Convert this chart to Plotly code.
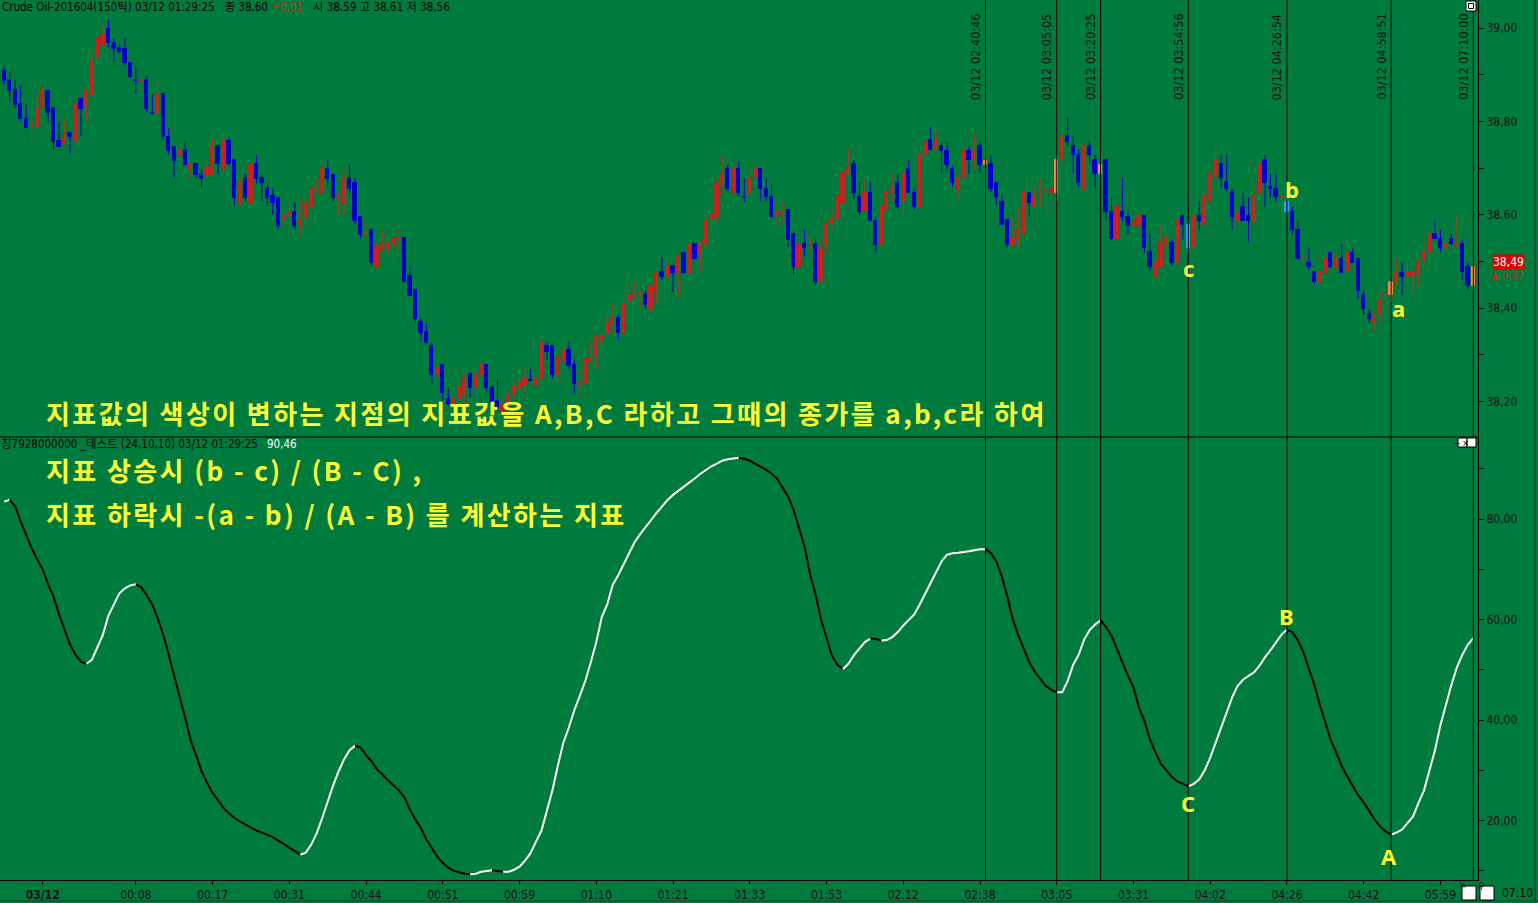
import plotly.graph_objects as go

# ---------------- data ----------------
opens = [
    38.908, 38.889, 38.867, 38.837, 38.806, 38.790, 38.786, 38.828, 38.865, 38.828,
    38.758, 38.753, 38.776, 38.756, 38.848, 38.835, 38.856, 38.935, 38.964, 38.998,
    38.967, 38.958, 38.956, 38.926, 38.888, 38.886, 38.889, 38.818, 38.816, 38.858,
    38.767, 38.746, 38.726, 38.739, 38.696, 38.708, 38.686, 38.685, 38.685, 38.748,
    38.696, 38.758, 38.717, 38.622, 38.678, 38.626, 38.708, 38.678, 38.658, 38.639,
    38.636, 38.589, 38.598, 38.606, 38.576, 38.596, 38.615, 38.653, 38.646, 38.698,
    38.686, 38.636, 38.626, 38.678, 38.667, 38.596, 38.556, 38.567, 38.487, 38.526,
    38.526, 38.535, 38.545, 38.549, 38.469, 38.439, 38.369, 38.349, 38.319, 38.256,
    38.278, 38.204, 38.190, 38.206, 38.217, 38.259, 38.228, 38.254, 38.278, 38.228,
    38.200, 38.180, 38.195, 38.214, 38.226, 38.235, 38.245, 38.235, 38.247, 38.319,
    38.319, 38.256, 38.286, 38.309, 38.278, 38.235, 38.237, 38.286, 38.296, 38.328,
    38.346, 38.366, 38.378, 38.346, 38.416, 38.427, 38.430, 38.428, 38.397, 38.437,
    38.478, 38.467, 38.489, 38.476, 38.517, 38.476, 38.537, 38.517, 38.534, 38.589,
    38.596, 38.666, 38.697, 38.647, 38.697, 38.638, 38.647, 38.678, 38.697, 38.656,
    38.637, 38.597, 38.603, 38.609, 38.559, 38.487, 38.537, 38.535, 38.537, 38.456,
    38.535, 38.580, 38.589, 38.626, 38.687, 38.709, 38.637, 38.606, 38.647, 38.587,
    38.535, 38.609, 38.646, 38.667, 38.628, 38.697, 38.647, 38.617, 38.728, 38.759,
    38.739, 38.747, 38.737, 38.697, 38.656, 38.678, 38.737, 38.717, 38.747, 38.706,
    38.709, 38.667, 38.628, 38.589, 38.535, 38.547, 38.559, 38.647, 38.617, 38.646,
    38.648, 38.647, 38.647, 38.717, 38.769, 38.747, 38.728, 38.656, 38.747, 38.717,
    38.687, 38.717, 38.606, 38.547, 38.606, 38.596, 38.575, 38.576, 38.597, 38.519,
    38.467, 38.487, 38.539, 38.539, 38.497, 38.597, 38.578, 38.528, 38.597, 38.578,
    38.628, 38.678, 38.709, 38.669, 38.649, 38.587, 38.617, 38.597, 38.587, 38.647,
    38.717, 38.660, 38.656, 38.636, 38.628, 38.606, 38.567, 38.505, 38.497, 38.478,
    38.456, 38.476, 38.517, 38.487, 38.506, 38.478, 38.517, 38.506, 38.428, 38.387,
    38.367, 38.387, 38.427, 38.428, 38.456, 38.476, 38.467, 38.469, 38.476, 38.506,
    38.517, 38.559, 38.547, 38.528, 38.547, 38.535, 38.537, 38.487, 38.447,
]
highs = [
    38.917, 38.906, 38.889, 38.878, 38.836, 38.806, 38.856, 38.878, 38.867, 38.828,
    38.798, 38.806, 38.778, 38.836, 38.849, 38.867, 38.949, 38.978, 39.008, 39.017,
    38.978, 38.967, 38.978, 38.926, 38.917, 38.906, 38.898, 38.858, 38.889, 38.858,
    38.786, 38.746, 38.758, 38.758, 38.715, 38.708, 38.696, 38.715, 38.767, 38.748,
    38.767, 38.767, 38.717, 38.686, 38.686, 38.708, 38.728, 38.686, 38.667, 38.658,
    38.636, 38.608, 38.639, 38.626, 38.636, 38.636, 38.658, 38.678, 38.708, 38.717,
    38.686, 38.650, 38.698, 38.708, 38.678, 38.596, 38.586, 38.567, 38.539, 38.567,
    38.542, 38.553, 38.567, 38.549, 38.489, 38.439, 38.378, 38.367, 38.326, 38.278,
    38.278, 38.226, 38.210, 38.239, 38.260, 38.259, 38.270, 38.289, 38.278, 38.235,
    38.247, 38.210, 38.220, 38.247, 38.253, 38.278, 38.269, 38.253, 38.339, 38.328,
    38.319, 38.299, 38.339, 38.328, 38.290, 38.269, 38.296, 38.328, 38.346, 38.349,
    38.389, 38.409, 38.387, 38.426, 38.456, 38.456, 38.437, 38.446, 38.449, 38.478,
    38.509, 38.517, 38.489, 38.517, 38.517, 38.537, 38.537, 38.549, 38.592, 38.609,
    38.670, 38.728, 38.706, 38.706, 38.715, 38.678, 38.710, 38.709, 38.697, 38.678,
    38.667, 38.628, 38.628, 38.609, 38.559, 38.537, 38.567, 38.556, 38.547, 38.547,
    38.585, 38.616, 38.637, 38.696, 38.739, 38.717, 38.670, 38.678, 38.669, 38.597,
    38.616, 38.651, 38.687, 38.687, 38.696, 38.717, 38.656, 38.728, 38.759, 38.789,
    38.778, 38.756, 38.756, 38.706, 38.689, 38.747, 38.747, 38.775, 38.756, 38.747,
    38.728, 38.667, 38.646, 38.589, 38.597, 38.617, 38.656, 38.647, 38.667, 38.678,
    38.659, 38.658, 38.728, 38.769, 38.809, 38.769, 38.739, 38.747, 38.756, 38.728,
    38.737, 38.717, 38.637, 38.624, 38.678, 38.606, 38.590, 38.606, 38.597, 38.559,
    38.510, 38.578, 38.559, 38.547, 38.589, 38.597, 38.589, 38.606, 38.628, 38.647,
    38.697, 38.747, 38.728, 38.728, 38.656, 38.647, 38.647, 38.637, 38.667, 38.719,
    38.728, 38.687, 38.687, 38.647, 38.637, 38.617, 38.587, 38.528, 38.528, 38.478,
    38.478, 38.537, 38.517, 38.517, 38.537, 38.517, 38.528, 38.506, 38.437, 38.397,
    38.397, 38.439, 38.430, 38.456, 38.506, 38.497, 38.497, 38.478, 38.506, 38.537,
    38.559, 38.589, 38.567, 38.547, 38.559, 38.597, 38.547, 38.497, 38.487,
]
lows = [
    38.879, 38.839, 38.828, 38.799, 38.785, 38.758, 38.785, 38.826, 38.799, 38.739,
    38.746, 38.749, 38.729, 38.755, 38.769, 38.799, 38.856, 38.928, 38.960, 38.958,
    38.928, 38.946, 38.919, 38.892, 38.859, 38.867, 38.819, 38.815, 38.815, 38.760,
    38.728, 38.679, 38.708, 38.706, 38.679, 38.678, 38.658, 38.679, 38.685, 38.686,
    38.694, 38.706, 38.619, 38.621, 38.626, 38.624, 38.667, 38.629, 38.619, 38.599,
    38.569, 38.569, 38.569, 38.569, 38.556, 38.570, 38.614, 38.646, 38.644, 38.656,
    38.628, 38.599, 38.599, 38.639, 38.579, 38.549, 38.551, 38.489, 38.485, 38.517,
    38.507, 38.500, 38.520, 38.455, 38.426, 38.369, 38.328, 38.324, 38.239, 38.249,
    38.202, 38.189, 38.180, 38.203, 38.192, 38.209, 38.225, 38.249, 38.221, 38.189,
    38.178, 38.170, 38.180, 38.203, 38.210, 38.217, 38.242, 38.232, 38.246, 38.289,
    38.249, 38.239, 38.281, 38.267, 38.217, 38.209, 38.235, 38.281, 38.269, 38.310,
    38.342, 38.346, 38.330, 38.340, 38.414, 38.419, 38.400, 38.399, 38.389, 38.410,
    38.460, 38.464, 38.434, 38.424, 38.474, 38.460, 38.504, 38.478, 38.528, 38.560,
    38.581, 38.640, 38.651, 38.646, 38.640, 38.628, 38.642, 38.674, 38.628, 38.628,
    38.596, 38.578, 38.578, 38.531, 38.471, 38.485, 38.510, 38.517, 38.449, 38.454,
    38.519, 38.564, 38.562, 38.621, 38.685, 38.630, 38.597, 38.606, 38.587, 38.519,
    38.533, 38.606, 38.628, 38.610, 38.597, 38.647, 38.610, 38.616, 38.724, 38.739,
    38.735, 38.689, 38.689, 38.659, 38.630, 38.669, 38.689, 38.697, 38.689, 38.648,
    38.649, 38.621, 38.578, 38.530, 38.535, 38.530, 38.556, 38.597, 38.617, 38.617,
    38.597, 38.645, 38.628, 38.710, 38.746, 38.689, 38.659, 38.649, 38.710, 38.659,
    38.659, 38.590, 38.546, 38.546, 38.585, 38.559, 38.519, 38.566, 38.519, 38.478,
    38.459, 38.487, 38.528, 38.489, 38.494, 38.547, 38.519, 38.519, 38.567, 38.578,
    38.626, 38.678, 38.659, 38.649, 38.567, 38.578, 38.587, 38.541, 38.578, 38.637,
    38.617, 38.637, 38.628, 38.597, 38.597, 38.559, 38.506, 38.487, 38.481, 38.447,
    38.447, 38.476, 38.487, 38.478, 38.476, 38.476, 38.497, 38.419, 38.387, 38.366,
    38.349, 38.366, 38.387, 38.411, 38.447, 38.429, 38.447, 38.428, 38.447, 38.489,
    38.499, 38.547, 38.519, 38.519, 38.530, 38.530, 38.459, 38.439, 38.439,
]
closes = [
    38.886, 38.865, 38.835, 38.805, 38.786, 38.795, 38.828, 38.865, 38.817, 38.756,
    38.746, 38.769, 38.767, 38.836, 38.826, 38.867, 38.928, 38.978, 38.986, 38.967,
    38.956, 38.948, 38.924, 38.896, 38.886, 38.888, 38.826, 38.816, 38.858, 38.767,
    38.736, 38.715, 38.739, 38.706, 38.706, 38.685, 38.676, 38.698, 38.748, 38.708,
    38.758, 38.708, 38.636, 38.667, 38.636, 38.706, 38.676, 38.667, 38.636, 38.626,
    38.576, 38.598, 38.606, 38.576, 38.586, 38.626, 38.656, 38.656, 38.698, 38.676,
    38.636, 38.640, 38.678, 38.656, 38.586, 38.556, 38.558, 38.496, 38.531, 38.537,
    38.539, 38.549, 38.548, 38.456, 38.426, 38.376, 38.347, 38.326, 38.256, 38.269,
    38.217, 38.194, 38.204, 38.231, 38.249, 38.228, 38.259, 38.278, 38.228, 38.197,
    38.185, 38.195, 38.210, 38.231, 38.239, 38.249, 38.243, 38.247, 38.328, 38.306,
    38.256, 38.297, 38.309, 38.276, 38.237, 38.240, 38.290, 38.290, 38.337, 38.339,
    38.367, 38.378, 38.347, 38.409, 38.428, 38.430, 38.432, 38.406, 38.447, 38.476,
    38.467, 38.489, 38.476, 38.509, 38.476, 38.537, 38.506, 38.535, 38.589, 38.599,
    38.667, 38.685, 38.656, 38.697, 38.647, 38.636, 38.678, 38.697, 38.656, 38.637,
    38.596, 38.606, 38.606, 38.546, 38.487, 38.537, 38.528, 38.537, 38.456, 38.529,
    38.578, 38.592, 38.637, 38.689, 38.697, 38.647, 38.606, 38.649, 38.587, 38.535,
    38.616, 38.647, 38.656, 38.617, 38.687, 38.647, 38.617, 38.728, 38.756, 38.739,
    38.759, 38.737, 38.706, 38.667, 38.678, 38.737, 38.717, 38.737, 38.706, 38.716,
    38.656, 38.637, 38.578, 38.535, 38.547, 38.567, 38.647, 38.626, 38.637, 38.649,
    38.650, 38.656, 38.717, 38.769, 38.756, 38.728, 38.667, 38.747, 38.728, 38.687,
    38.706, 38.606, 38.547, 38.617, 38.596, 38.576, 38.585, 38.597, 38.528, 38.487,
    38.499, 38.539, 38.549, 38.497, 38.589, 38.578, 38.528, 38.597, 38.587, 38.637,
    38.687, 38.717, 38.678, 38.656, 38.596, 38.606, 38.587, 38.587, 38.637, 38.709,
    38.667, 38.656, 38.637, 38.639, 38.606, 38.567, 38.506, 38.508, 38.487, 38.456,
    38.478, 38.506, 38.487, 38.506, 38.476, 38.517, 38.497, 38.437, 38.397, 38.376,
    38.378, 38.417, 38.430, 38.456, 38.476, 38.467, 38.476, 38.476, 38.497, 38.517,
    38.559, 38.547, 38.528, 38.537, 38.537, 38.537, 38.478, 38.447, 38.487,
]
indicator = [
    83.5, 83.8, 82.5, 79.5, 76.8, 74.2, 72.0, 70.0, 67.0, 64.5,
    61.0, 58.0, 55.0, 53.0, 51.6, 51.2, 52.0, 54.5, 57.0, 60.8,
    63.0, 65.2, 66.2, 66.8, 67.0, 66.4, 64.8, 63.0, 60.2, 57.0,
    53.0, 48.5, 44.6, 40.5, 36.0, 33.0, 29.8, 27.5, 25.5, 24.0,
    22.5, 21.4, 20.5, 19.8, 19.2, 18.5, 18.0, 17.6, 17.2, 16.7,
    16.0, 15.3, 14.7, 14.0, 13.2, 13.6, 15.2, 17.5, 20.5, 23.8,
    27.0, 29.8, 32.2, 34.0, 34.9, 34.5, 33.0, 31.8, 30.2, 29.0,
    28.0, 27.0, 26.0, 24.6, 22.2, 20.2, 18.5, 16.2, 14.5, 12.8,
    11.6, 10.6, 10.0, 9.7, 9.4, 9.3, 9.4, 9.8, 10.0, 10.1,
    9.9, 9.8, 9.8, 10.2, 10.8, 12.0, 13.5, 15.8, 18.0, 22.0,
    26.0, 31.0, 35.5, 38.5, 42.0, 44.8, 47.8, 51.5, 55.5, 60.5,
    63.0, 66.9, 68.8, 71.0, 73.3, 75.4, 77.0, 78.5, 79.8, 81.2,
    82.6, 83.8, 84.8, 85.6, 86.5, 87.2, 88.1, 89.0, 89.8, 90.5,
    91.0, 91.6, 91.9, 92.1, 92.2, 92.0, 91.6, 91.0, 90.4, 89.8,
    89.0, 88.0, 86.2, 84.5, 81.8, 78.3, 74.5, 69.0, 65.0, 60.0,
    56.5, 52.8, 51.0, 50.1, 51.2, 52.9, 54.2, 55.5, 56.2, 56.1,
    55.8, 55.9, 56.5, 57.5, 58.8, 59.8, 61.0, 63.0, 65.2, 67.3,
    69.5, 71.6, 72.9, 73.2, 73.3, 73.4, 73.6, 73.8, 74.0, 74.0,
    73.2, 71.5, 68.5, 64.5, 60.0, 56.8, 54.0, 51.5, 49.6, 48.2,
    46.8, 46.0, 45.5, 45.5, 47.8, 51.0, 53.0, 56.0, 57.9, 59.0,
    59.8, 58.5, 56.8, 54.0, 51.5, 48.8, 46.5, 42.5, 39.8, 36.2,
    33.6, 31.3, 30.0, 28.7, 27.8, 27.3, 26.8, 27.3, 28.2, 30.0,
    32.5, 35.5, 38.8, 41.8, 44.5, 46.8, 48.0, 48.8, 49.5, 50.8,
    52.5, 53.9, 55.5, 57.0, 58.0, 57.5, 55.8, 53.5, 50.2, 47.0,
    43.0, 39.5, 36.0, 33.5, 30.8, 28.8, 26.8, 25.0, 23.6, 21.8,
    20.2, 18.8, 17.8, 17.2, 17.6, 18.2, 19.5, 20.8, 23.5, 26.0,
    30.0, 34.0, 39.0, 43.2, 47.0, 50.5, 53.0, 55.0, 56.3,
]
x_tick_idx = [7, 24, 38, 52, 66, 80, 94, 108, 122, 136, 150, 164, 178, 192, 206, 220, 234, 248, 262]
x_tick_text = ["<b>03/12</b>", "00:08", "00:17", "00:31", "00:44", "00:51", "00:59", "01:10", "01:21",
               "01:33", "01:53", "02:12", "02:38", "03:05", "03:31", "04:02", "04:26", "04:42", "05:59"]
vline_idx = [179, 192, 200, 216, 234, 253, 268]
vline_text = ["03/12 02:40:46", "03/12 03:05:05", "03/12 03:20:25", "03/12 03:54:56",
              "03/12 04:26:54", "03/12 04:58:51", "03/12 07:10:00"]
price_ticks = [38.2, 38.4, 38.6, 38.8, 39.0]
price_minor = [38.3, 38.5, 38.7, 38.9]
ind_ticks = [20, 40, 60, 80]
ind_minor = [10, 30, 50, 70, 90]
wave_small = [("c", 216, 38.486), ("b", 235, 38.655), ("a", 254.4, 38.40)]
wave_big = [("C", 216, 23.5), ("B", 234, 60.7), ("A", 252.6, 12.9)]
notes = ["지표값의 색상이 변하는 지점의 지표값을 A,B,C 라하고 그때의 종가를 a,b,c라 하여",
         "지표 상승시 (b - c) / (B - C) ,",
         "지표 하락시 -(a - b) / (A - B) 를 계산하는 지표"]

# ---------------- style ----------------
GREEN = "#007b3e"
UP_BODY, UP_WICK = "#c81e1e", "#a83a22"
DN_BODY, DN_WICK = "#0000c8", "#0000c8"
HU_BODY, HU_WICK = "#ff8040", "#e8c88a"
HD_BODY, HD_WICK = "#3c9cff", "#3c9cff"
YELLOW = "#ffff33"
NARROW = "Liberation Sans Narrow, DejaVu Sans Condensed, Arial Narrow, Noto Sans CJK KR, sans-serif"

W, H = 1538, 903
ML, MR, MT, MB = 0, 60, 0, 23
PW, PH = W - ML - MR, H - MT - MB
split = 1 - 437 / PH

n = len(closes)
idx = list(range(n))
hl = set(vline_idx)
x_range = [-0.78, 268.85]


def px_x(p):
    return p / PW


def px_y(p):
    return 1 - p / PH


fig = go.Figure()

groups = [
    ([i for i in idx if i not in hl and closes[i] >= opens[i]], UP_BODY, UP_WICK),
    ([i for i in idx if i not in hl and closes[i] < opens[i]], DN_BODY, DN_WICK),
    ([i for i in idx if i in hl and closes[i] >= opens[i]], HU_BODY, HU_WICK),
    ([i for i in idx if i in hl and closes[i] < opens[i]], HD_BODY, HD_WICK),
]
for sel, body, wick in groups:
    xs, ys = [], []
    for i in sel:
        xs += [i, i, None]
        ys += [lows[i], highs[i], None]
    fig.add_trace(go.Scatter(x=xs, y=ys, mode="lines", line=dict(color=wick, width=1),
                             xaxis="x", yaxis="y", hoverinfo="skip"))
for sel, body, wick in groups:
    fig.add_trace(go.Bar(x=sel, y=[closes[i] - opens[i] for i in sel], base=[opens[i] for i in sel],
                         width=0.6, marker=dict(color=body, line=dict(color=body, width=1)),
                         xaxis="x", yaxis="y", hoverinfo="skip"))

# indicator, white when rising, black when falling
segs = []
start = 0
cur = indicator[1] >= indicator[0]
for i in range(2, n):
    d = indicator[i] >= indicator[i - 1]
    if d != cur:
        segs.append((start, i - 1, cur))
        start = i - 1
        cur = d
segs.append((start, n - 1, cur))
for s, e, up in segs:
    fig.add_trace(go.Scatter(x=list(range(s, e + 1)), y=indicator[s:e + 1], mode="lines",
                             line=dict(color="white" if up else "black", width=2),
                             xaxis="x2", yaxis="y2", hoverinfo="skip"))

shapes = []
for i in vline_idx:
    shapes.append(dict(type="line", xref="x", yref="paper", x0=i, x1=i, y0=0, y1=1,
                       line=dict(color="black", width=1)))
shapes.append(dict(type="line", xref="paper", yref="paper", x0=0, x1=1, y0=split, y1=split,
                   line=dict(color="black", width=1)))
shapes.append(dict(type="line", xref="paper", yref="paper", x0=px_x(1535), x1=px_x(1535),
                   y0=px_y(903), y1=1, line=dict(color="#333333", width=1)))
shapes.append(dict(type="line", xref="paper", yref="paper", x0=0, x1=px_x(1538),
                   y0=px_y(901), y1=px_y(901), line=dict(color="#333333", width=1)))
# small window icons
for (x0, y0, x1, y1) in [(1466, 1, 1476, 11), (1458, 438, 1467, 447), (1467, 438, 1476, 447),
                         (1462, 886, 1476, 900), (1480, 886, 1494, 900)]:
    shapes.append(dict(type="rect", xref="paper", yref="paper", x0=px_x(x0), x1=px_x(x1),
                       y0=px_y(y1), y1=px_y(y0), fillcolor="white", line=dict(color="black", width=1)))
shapes.append(dict(type="rect", xref="paper", yref="paper", x0=px_x(1468.5), x1=px_x(1473.5),
                   y0=px_y(8.5), y1=px_y(3.5), fillcolor="white", line=dict(color="black", width=1)))

annotations = []
for i, t in zip(vline_idx, vline_text):
    annotations.append(dict(x=i, xref="x", y=px_y(12), yref="paper", text=t, textangle=-90,
                            showarrow=False, xanchor="right", yanchor="top", xshift=-1,
                            font=dict(family=NARROW, size=12.5, color="#111111")))
for t, xi, yv in wave_small:
    annotations.append(dict(x=xi, y=yv, xref="x", yref="y", text="<b>%s</b>" % t, showarrow=False,
                            font=dict(family="Noto Sans, DejaVu Sans", size=22, color=YELLOW)))
for t, xi, yv in wave_big:
    annotations.append(dict(x=xi, y=yv, xref="x2", yref="y2", text="<b>%s</b>" % t, showarrow=False,
                            font=dict(family="Noto Sans, DejaVu Sans", size=22, color=YELLOW)))
for t, yp in zip(notes, [413, 469, 513]):
    annotations.append(dict(x=px_x(45), y=px_y(yp), xref="paper", yref="paper",
                            text="<span style='letter-spacing:2.4px'><b>%s</b></span>" % t,
                            showarrow=False, xanchor="left", yanchor="middle", borderpad=0,
                            font=dict(family="Noto Sans CJK KR", size=26, color=YELLOW)))
annotations.append(dict(x=0, y=1, xref="paper", yref="paper", xanchor="left", yanchor="top", showarrow=False,
                        text="Crude Oil-201604(150틱) 03/12 01:29:25 &nbsp; 종 38,60 "
                             "<span style='color:#c0341e'>+0,01</span> &nbsp; 시 38,59 고 38,61 저 38,56",
                        font=dict(family=NARROW, size=11.5, color="black"), yshift=2))
annotations.append(dict(x=0, y=split, xref="paper", yref="paper", xanchor="left", yanchor="top", showarrow=False,
                        text="칭7928000000 _테스트 (24,10,10) 03/12 01:29:25", borderpad=0,
                        font=dict(family=NARROW, size=11.5, color="black"), yshift=1))
annotations.append(dict(x=px_x(266), y=split, xref="paper", yref="paper", xanchor="left", yanchor="top",
                        showarrow=False, text="90,46", borderpad=0,
                        font=dict(family=NARROW, size=11.5, color="white"), yshift=1))
annotations.append(dict(x=px_x(1492), y=closes[-1], xref="paper", yref="y", xanchor="left",
                        yanchor="middle", showarrow=False, text="38,49", bgcolor="#e00000",
                        borderpad=0, yshift=5, font=dict(family=NARROW, size=12, color="white")))
annotations.append(dict(x=px_x(1489), y=closes[-1], xref="paper", yref="y", xanchor="left",
                        yanchor="middle", showarrow=False, text="▲ 0,47", yshift=-8,
                        font=dict(family=NARROW, size=11, color="#b03020")))
annotations.append(dict(x=px_x(1517), y=px_y(884), xref="paper", yref="paper", showarrow=False,
                        xanchor="center", yanchor="top",
                        text="07:10", font=dict(family=NARROW, size=12, color="black")))
for xp, yp, t in [(1462.5, 442.5, "−"), (1471.5, 442.5, "×"), (1469, 893, "✎"), (1487, 893, "⚲")]:
    annotations.append(dict(x=px_x(xp), y=px_y(yp), xref="paper", yref="paper", showarrow=False,
                            text=t, font=dict(family="DejaVu Sans", size=9, color="black")))

yfont = dict(family=NARROW, size=12, color="#111111")
fig.update_layout(
    width=W, height=H,
    margin=dict(l=ML, r=MR, t=MT, b=MB),
    paper_bgcolor=GREEN, plot_bgcolor=GREEN,
    showlegend=False, bargap=0,
    xaxis=dict(domain=[0, 1], range=x_range, anchor="y", showticklabels=False, ticks="",
               showgrid=False, zeroline=False, showline=False),
    xaxis2=dict(domain=[0, 1], range=x_range, anchor="y2", matches="x", tickmode="array",
                tickvals=x_tick_idx, ticktext=x_tick_text, ticks="outside", ticklen=4,
                tickcolor="black", showgrid=False, zeroline=False, showline=True,
                linecolor="black", linewidth=1, tickfont=yfont),
    yaxis=dict(domain=[split, 1], range=[38.1236, 39.060], side="right", anchor="x",
               tickmode="array", tickvals=price_ticks, ticktext=["%.2f" % v for v in price_ticks],
               ticks="outside", ticklen=5, tickcolor="black", showgrid=False, zeroline=False,
               showline=True, linecolor="black", linewidth=1, tickfont=yfont,
               minor=dict(tickmode="array", tickvals=price_minor, ticks="outside", ticklen=5,
                          tickcolor="black", showgrid=False)),
    yaxis2=dict(domain=[0, split], range=[8.16, 96.32], side="right", anchor="x2",
                tickmode="array", tickvals=ind_ticks, ticktext=["%.2f" % v for v in ind_ticks],
                ticks="outside", ticklen=5, tickcolor="black", showgrid=False, zeroline=False,
                showline=True, linecolor="black", linewidth=1, tickfont=yfont,
                minor=dict(tickmode="array", tickvals=ind_minor, ticks="outside", ticklen=5,
                           tickcolor="black", showgrid=False)),
    shapes=shapes,
    annotations=annotations,
)
# decimal comma labels
fig.layout.yaxis.ticktext = [s.replace(".", ",") for s in fig.layout.yaxis.ticktext]
fig.layout.yaxis2.ticktext = [s.replace(".", ",") for s in fig.layout.yaxis2.ticktext]

fig.write_html("out.html", config={"displayModeBar": False},
               post_script="document.body.style.margin='0';document.body.style.overflow='hidden';")
